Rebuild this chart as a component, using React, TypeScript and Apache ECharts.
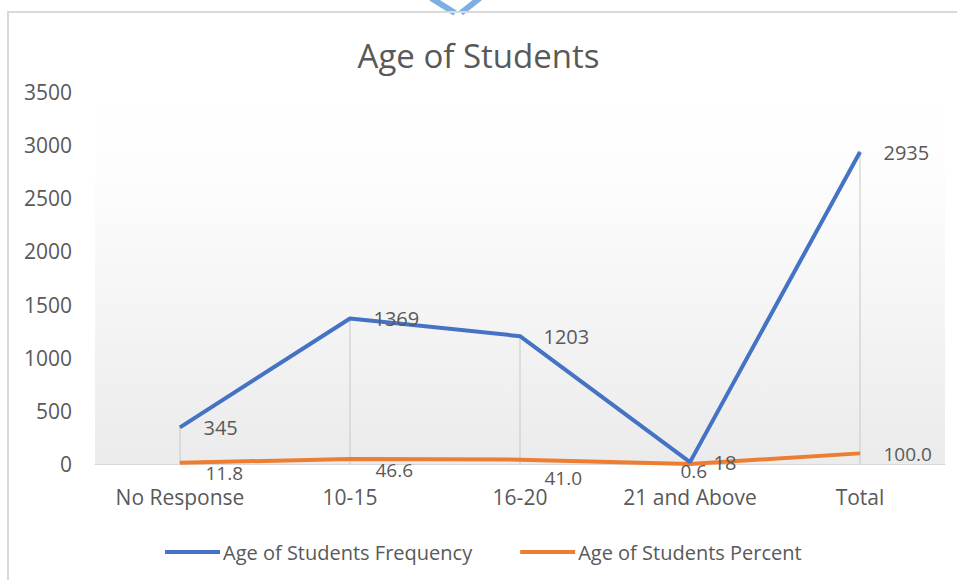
import React, { useEffect, useRef } from "react";
import * as echarts from "echarts";

const categories = ["No Response", "10-15", "16-20", "21 and Above", "Total"];
const frequency = [345, 1369, 1203, 18, 2935];
const percent = [11.8, 46.6, 41.0, 0.6, 100.0];
const percentLabels = ["11.8", "46.6", "41.0", "0.6", "100.0"];
const percentLabelOffsets = [
  [25, 10],
  [25, 11],
  [24, 18],
  [-10, 7],
  [23, 1],
];
const yTicks = { min: 0, max: 3500, interval: 500 };

const FONT = "'Open Sans', sans-serif";
const TXT = "#595959";

export default function App() {
  const ref = useRef<HTMLDivElement>(null);
  useEffect(() => {
    if (!ref.current) return;
    const chart = echarts.init(ref.current, null, { renderer: "svg" });
    chart.setOption({
      animation: false,
      backgroundColor: "#ffffff",
      textStyle: { fontFamily: FONT },
      title: {
        text: "Age of Students",
        left: "center",
        top: 34,
        textStyle: { fontFamily: FONT, fontSize: 33, fontWeight: "normal", color: TXT },
      },
      legend: {
        data: ["Age of Students Frequency", "Age of Students Percent"],
        left: 160,
        top: 537,
        icon: "rect",
        itemWidth: 55,
        itemHeight: 4,
        itemGap: 48,
        textStyle: { fontFamily: FONT, fontSize: 20, color: TXT, padding: [0, 0, 0, -2] },
      },
      grid: {
        left: 95,
        right: 12,
        top: 92,
        bottom: 116,
        show: true,
        borderWidth: 0,
        backgroundColor: new echarts.graphic.LinearGradient(0, 0, 0, 1, [
          { offset: 0, color: "#ffffff" },
          { offset: 0.22, color: "#fdfdfd" },
          { offset: 1, color: "#ebebeb" },
        ]),
      },
      xAxis: {
        type: "category",
        data: categories,
        boundaryGap: true,
        axisTick: { show: false },
        axisLine: { show: true, lineStyle: { color: "#d9d9d9", width: 1 } },
        axisLabel: {
          color: TXT,
          fontFamily: FONT,
          fontSize: 21,
          lineHeight: 16,
          margin: 25,
          interval: 0,
        },
      },
      yAxis: {
        type: "value",
        min: yTicks.min,
        max: yTicks.max,
        interval: yTicks.interval,
        splitLine: { show: false },
        axisLine: { show: false },
        axisTick: { show: false },
        axisLabel: {
          color: TXT,
          fontFamily: FONT,
          fontSize: 21,
          margin: 23,
          formatter: (v: number) => String(v),
        },
      },
      series: [
        {
          name: "drop",
          type: "bar",
          data: frequency,
          barWidth: 1,
          itemStyle: { color: "#c8c8c8" },
          silent: true,
          z: 1,
        },
        {
          name: "Age of Students Frequency",
          type: "line",
          data: frequency,
          showSymbol: true,
          symbol: "circle",
          symbolSize: 1,
          lineStyle: { color: "#4472C4", width: 4 },
          itemStyle: { color: "#4472C4" },
          z: 3,
          label: {
            show: true,
            position: "right",
            distance: 23,
            color: TXT,
            fontFamily: FONT,
            fontSize: 20,
          },
        },
        {
          name: "Age of Students Percent",
          type: "line",
          data: percent.map((v, i) => ({
            value: v,
            label: {
              offset: percentLabelOffsets[i],
              formatter: percentLabels[i],
            },
          })),
          showSymbol: true,
          symbol: "circle",
          symbolSize: 1,
          lineStyle: { color: "#ED7D31", width: 4 },
          itemStyle: { color: "#ED7D31" },
          z: 2,
          label: {
            show: true,
            position: "right",
            distance: 0,
            color: TXT,
            fontFamily: FONT,
            fontSize: 19,
            lineHeight: 14,
          },
        },
      ],
      graphic: [
        {
          type: "polyline",
          shape: { points: [[431, -2], [455, 13]] },
          style: { stroke: "#7cb0e2", lineWidth: 6, fill: "none" },
          z: 0,
        },
        {
          type: "polyline",
          shape: { points: [[480, -2], [461, 13]] },
          style: { stroke: "#7cb0e2", lineWidth: 6, fill: "none" },
          z: 0,
        },
        {
          type: "rect",
          shape: { x: 8, y: 12, width: 960, height: 580 },
          style: { stroke: "#d9d9d9", lineWidth: 2, fill: "none" },
          z: 1,
          silent: true,
        },
      ],
    });
    return () => chart.dispose();
  }, []);
  return (
    <div
      ref={ref}
      style={{ position: "fixed", left: 0, top: 0, width: 957, height: 580 }}
    />
  );
}
